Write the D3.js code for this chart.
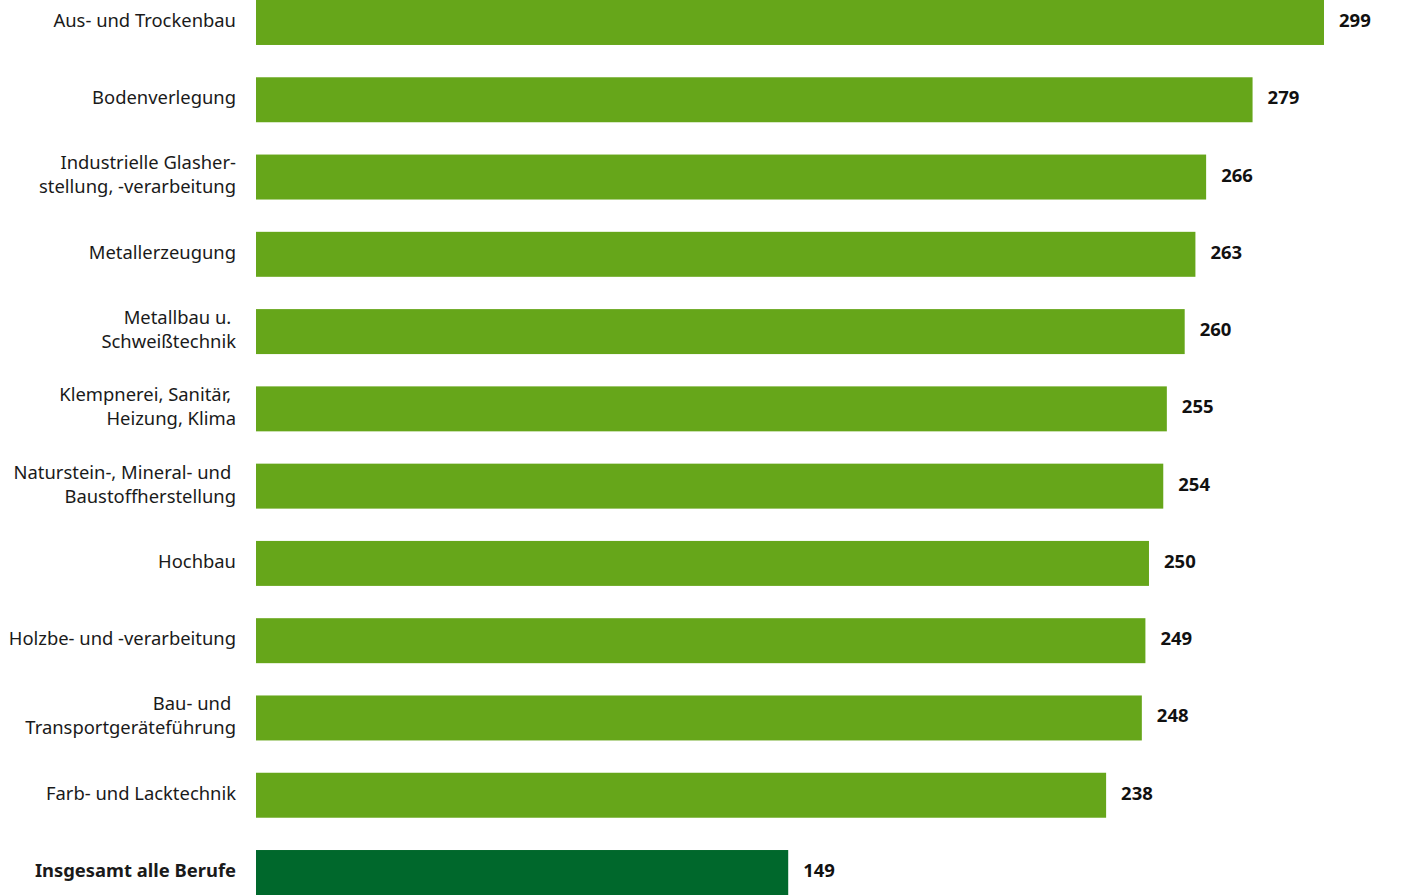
<!DOCTYPE html>
<html>
<head>
<meta charset="utf-8">
<script src="https://cdn.jsdelivr.net/npm/d3@7"></script>
<style>
  body { margin: 0; background: #fff; }
  svg text { font-family: "Noto Sans", sans-serif; white-space: pre; }
</style>
</head>
<body>
<div id="chart"></div>
<script>
var width = 1424, height = 896;

// Berufe (Zeilen), mehrzeilige Beschriftungen als Arrays
var categories = [
	["Aus- und Trockenbau"],
	["Bodenverlegung"],
	["Industrielle Glasher-", "stellung, -verarbeitung"],
	["Metallerzeugung"],
	["Metallbau u. ", "Schweißtechnik"],
	["Klempnerei, Sanitär, ", "Heizung, Klima"],
	["Naturstein-, Mineral- und ", "Baustoffherstellung"],
	["Hochbau"],
	["Holzbe- und -verarbeitung"],
	["Bau- und ", "Transportgeräteführung"],
	["Farb- und Lacktechnik"],
	["Insgesamt alle Berufe"]
];
var values = [299, 279, 266, 263, 260, 255, 254, 250, 249, 248, 238, 149];
var highlight = [false, false, false, false, false, false, false, false, false, false, false, true];

var margin = {left: 256, right: 100};

var svg = d3.select("#chart").append("svg")
	.attr("width", width)
	.attr("height", height);

var x = d3.scaleLinear()
	.domain([0, 299])
	.range([margin.left, 1324]);

var y = d3.scaleBand()
	.domain(d3.range(values.length))
	.range([0, 895])
	.paddingInner(0.418)
	.paddingOuter(0);

var rows = svg.selectAll("g.row")
	.data(values)
	.enter().append("g")
	.attr("class", "row");

rows.append("rect")
	.attr("x", x(0))
	.attr("y", function(d, i){ return y(i); })
	.attr("width", function(d){ return x(d) - x(0); })
	.attr("height", y.bandwidth())
	.attr("fill", function(d, i){ return highlight[i] ? "#00682c" : "#66a61a"; });

rows.append("text")
	.attr("x", function(d){ return x(d) + 15; })
	.attr("y", function(d, i){ return y(i) + y.bandwidth() / 2 - 2; })
	.attr("dy", ".35em")
	.attr("font-size", 18.5)
	.attr("font-weight", "bold")
	.attr("fill", "#111")
	.text(function(d){ return d; });

var labels = rows.append("text")
	.attr("text-anchor", "end")
	.attr("font-size", 18.4)
	.attr("font-weight", function(d, i){ return highlight[i] ? "bold" : "normal"; })
	.attr("fill", "#1a1a1a");

labels.each(function(d, i){
	var lines = categories[i];
	var cy = y(i) + y.bandwidth() / 2 - 2;
	d3.select(this).selectAll("tspan")
		.data(lines)
		.enter().append("tspan")
		.attr("x", 236)
		.attr("y", function(l, j){ return cy + (j - (lines.length - 1) / 2) * 24; })
		.attr("dy", ".35em")
		.text(function(l){ return l; });
});
</script>
</body>
</html>
